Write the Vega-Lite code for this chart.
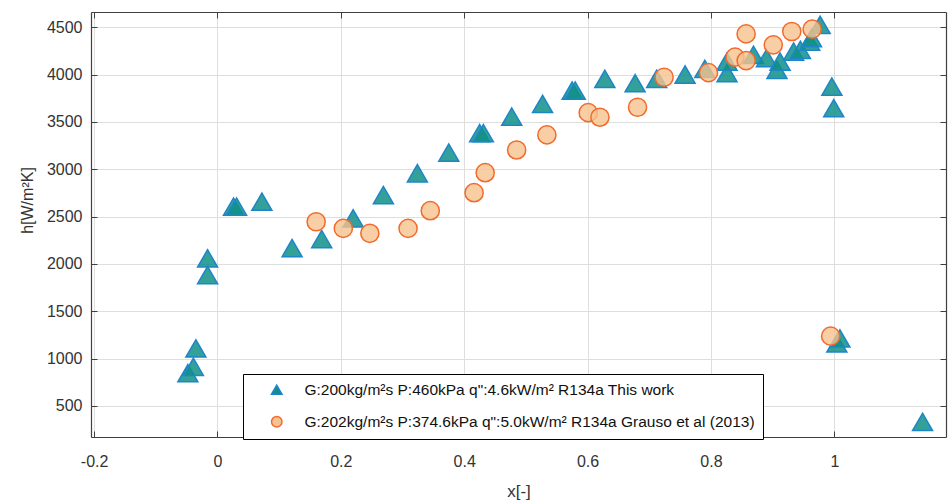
{
  "$schema": "https://vega.github.io/schema/vega-lite/v6.json",
  "autosize": {"type": "none"},
  "width": 855,
  "height": 425,
  "padding": {"left": 91, "top": 12, "right": 4, "bottom": 67},
  "background": "white",
  "config": {
    "view": {"stroke": null},
    "font": "Liberation Sans",
    "axis": {
      "labelFont": "Liberation Sans",
      "titleFont": "Liberation Sans",
      "labelFontSize": 16,
      "titleFontSize": 17,
      "titleFontWeight": "normal",
      "labelColor": "#333333",
      "titleColor": "#333333",
      "domainColor": "#404040",
      "tickColor": "#404040",
      "gridColor": "#dedede",
      "gridWidth": 1,
      "tickSize": -6,
      "domainWidth": 1.2
    },
    "legend": {
      "labelFont": "Liberation Sans",
      "labelFontSize": 15.5,
      "labelColor": "#111111",
      "labelLimit": 0,
      "symbolSize": 110,
      "symbolStrokeWidth": 1.5
    }
  },
  "datasets": {
    "thiswork": [
      {"x": -0.048, "h": 846, "source": "This work"},
      {"x": -0.039, "h": 913, "source": "This work"},
      {"x": -0.035, "h": 1107, "source": "This work"},
      {"x": -0.016, "h": 2058, "source": "This work"},
      {"x": -0.016, "h": 1882, "source": "This work"},
      {"x": 0.026, "h": 2604, "source": "This work"},
      {"x": 0.031, "h": 2604, "source": "This work"},
      {"x": 0.072, "h": 2657, "source": "This work"},
      {"x": 0.121, "h": 2167, "source": "This work"},
      {"x": 0.169, "h": 2262, "source": "This work"},
      {"x": 0.220, "h": 2481, "source": "This work"},
      {"x": 0.269, "h": 2727, "source": "This work"},
      {"x": 0.324, "h": 2957, "source": "This work"},
      {"x": 0.375, "h": 3175, "source": "This work"},
      {"x": 0.425, "h": 3380, "source": "This work"},
      {"x": 0.431, "h": 3380, "source": "This work"},
      {"x": 0.477, "h": 3555, "source": "This work"},
      {"x": 0.527, "h": 3689, "source": "This work"},
      {"x": 0.575, "h": 3830, "source": "This work"},
      {"x": 0.580, "h": 3830, "source": "This work"},
      {"x": 0.628, "h": 3954, "source": "This work"},
      {"x": 0.677, "h": 3908, "source": "This work"},
      {"x": 0.712, "h": 3954, "source": "This work"},
      {"x": 0.758, "h": 4000, "source": "This work"},
      {"x": 0.790, "h": 4059, "source": "This work"},
      {"x": 0.826, "h": 4014, "source": "This work"},
      {"x": 0.826, "h": 4136, "source": "This work"},
      {"x": 0.869, "h": 4207, "source": "This work"},
      {"x": 0.890, "h": 4172, "source": "This work"},
      {"x": 0.907, "h": 4049, "source": "This work"},
      {"x": 0.912, "h": 4136, "source": "This work"},
      {"x": 0.934, "h": 4242, "source": "This work"},
      {"x": 0.945, "h": 4260, "source": "This work"},
      {"x": 0.960, "h": 4348, "source": "This work"},
      {"x": 0.963, "h": 4384, "source": "This work"},
      {"x": 0.977, "h": 4524, "source": "This work"},
      {"x": 0.996, "h": 3872, "source": "This work"},
      {"x": 0.999, "h": 3644, "source": "This work"},
      {"x": 1.004, "h": 1160, "source": "This work"},
      {"x": 1.009, "h": 1213, "source": "This work"},
      {"x": 1.143, "h": 331, "source": "This work"}
    ],
    "grauso": [
      {"x": 0.160, "h": 2445, "source": "Grauso et al (2013)"},
      {"x": 0.204, "h": 2375, "source": "Grauso et al (2013)"},
      {"x": 0.247, "h": 2323, "source": "Grauso et al (2013)"},
      {"x": 0.309, "h": 2375, "source": "Grauso et al (2013)"},
      {"x": 0.345, "h": 2562, "source": "Grauso et al (2013)"},
      {"x": 0.416, "h": 2752, "source": "Grauso et al (2013)"},
      {"x": 0.434, "h": 2963, "source": "Grauso et al (2013)"},
      {"x": 0.485, "h": 3203, "source": "Grauso et al (2013)"},
      {"x": 0.534, "h": 3362, "source": "Grauso et al (2013)"},
      {"x": 0.601, "h": 3597, "source": "Grauso et al (2013)"},
      {"x": 0.620, "h": 3549, "source": "Grauso et al (2013)"},
      {"x": 0.681, "h": 3654, "source": "Grauso et al (2013)"},
      {"x": 0.724, "h": 3971, "source": "Grauso et al (2013)"},
      {"x": 0.796, "h": 4020, "source": "Grauso et al (2013)"},
      {"x": 0.839, "h": 4183, "source": "Grauso et al (2013)"},
      {"x": 0.857, "h": 4429, "source": "Grauso et al (2013)"},
      {"x": 0.857, "h": 4147, "source": "Grauso et al (2013)"},
      {"x": 0.901, "h": 4313, "source": "Grauso et al (2013)"},
      {"x": 0.931, "h": 4454, "source": "Grauso et al (2013)"},
      {"x": 0.964, "h": 4479, "source": "Grauso et al (2013)"},
      {"x": 0.994, "h": 1237, "source": "Grauso et al (2013)"}
    ]
  },
  "layer": [
    {
      "data": {"name": "thiswork"},
      "mark": {"type": "point", "filled": true, "size": 400, "opacity": 1, "fillOpacity": 0.85, "strokeWidth": 1.5, "strokeOpacity": 1},
      "encoding": {
        "x": {
          "field": "x", "type": "quantitative",
          "scale": {"domain": [-0.205, 1.181], "nice": false, "zero": false},
          "axis": {
            "orient": "bottom", "title": "x[-]", "values": [-0.2, 0, 0.2, 0.4, 0.6, 0.8, 1],
            "labelExpr": "replace(format(datum.value, '~g'), '\u2212', '-')",
            "labelPadding": 22, "titlePadding": 14, "grid": true
          }
        },
        "y": {
          "field": "h", "type": "quantitative",
          "scale": {"domain": [172, 4660], "nice": false, "zero": false},
          "axis": {
            "orient": "left", "title": "h[W/m²K]", "titleFontSize": 16, "titleX": -56, "titleY": 188, "titleBaseline": "bottom",
            "values": [500, 1000, 1500, 2000, 2500, 3000, 3500, 4000, 4500],
            "format": "d", "labelPadding": 15, "grid": true
          }
        },
        "shape": {
          "field": "source", "type": "nominal",
          "scale": {"domain": ["This work", "Grauso et al (2013)"], "range": ["triangle-up", "circle"]},
          "legend": {
            "title": null, "orient": "none", "legendX": 152, "legendY": 362,
            "direction": "vertical", "padding": 8, "rowPadding": 14,
            "strokeColor": "#000000", "fillColor": "#ffffff",
            "symbolOffset": 18, "labelOffset": 20,
            "labelExpr": "datum.label == 'This work' ? 'G:200kg/m²s P:460kPa q\":4.6kW/m² R134a This work' : '\u00a0G:202kg/m²s P:374.6kPa q\":5.0kW/m² R134a Grauso et al (2013)'"
          }
        },
        "fill": {
          "field": "source", "type": "nominal",
          "scale": {"domain": ["This work", "Grauso et al (2013)"], "range": ["#0f8f87", "#f6c28f"]},
          "legend": {
            "title": null, "orient": "none", "legendX": 152, "legendY": 362,
            "direction": "vertical", "padding": 8, "rowPadding": 14,
            "strokeColor": "#000000", "fillColor": "#ffffff",
            "symbolOffset": 18, "labelOffset": 20,
            "labelExpr": "datum.label == 'This work' ? 'G:200kg/m²s P:460kPa q\":4.6kW/m² R134a This work' : '\u00a0G:202kg/m²s P:374.6kPa q\":5.0kW/m² R134a Grauso et al (2013)'"
          }
        },
        "stroke": {
          "field": "source", "type": "nominal",
          "scale": {"domain": ["This work", "Grauso et al (2013)"], "range": ["#1d86c9", "#f26a2c"]},
          "legend": {
            "title": null, "orient": "none", "legendX": 152, "legendY": 362,
            "direction": "vertical", "padding": 8, "rowPadding": 14,
            "strokeColor": "#000000", "fillColor": "#ffffff",
            "symbolOffset": 18, "labelOffset": 20,
            "labelExpr": "datum.label == 'This work' ? 'G:200kg/m²s P:460kPa q\":4.6kW/m² R134a This work' : '\u00a0G:202kg/m²s P:374.6kPa q\":5.0kW/m² R134a Grauso et al (2013)'"
          }
        }
      }
    },
    {
      "data": {"name": "grauso"},
      "mark": {"type": "point", "filled": true, "size": 330, "opacity": 1, "fillOpacity": 0.8, "strokeWidth": 1.5, "strokeOpacity": 1},
      "encoding": {
        "x": {
          "field": "x", "type": "quantitative",
          "scale": {"domain": [-0.205, 1.181], "nice": false, "zero": false},
          "axis": {"orient": "top", "title": null, "labels": false, "grid": false, "values": [-0.2, 0, 0.2, 0.4, 0.6, 0.8, 1]}
        },
        "y": {
          "field": "h", "type": "quantitative",
          "scale": {"domain": [172, 4660], "nice": false, "zero": false},
          "axis": {"orient": "right", "title": null, "labels": false, "grid": false, "values": [500, 1000, 1500, 2000, 2500, 3000, 3500, 4000, 4500]}
        },
        "shape": {"field": "source", "type": "nominal", "scale": {"domain": ["This work", "Grauso et al (2013)"], "range": ["triangle-up", "circle"]}},
        "fill": {"field": "source", "type": "nominal", "scale": {"domain": ["This work", "Grauso et al (2013)"], "range": ["#0f8f87", "#f6c28f"]}},
        "stroke": {"field": "source", "type": "nominal", "scale": {"domain": ["This work", "Grauso et al (2013)"], "range": ["#1d86c9", "#f26a2c"]}}
      }
    }
  ],
  "resolve": {"axis": {"x": "independent", "y": "independent"}}
}
